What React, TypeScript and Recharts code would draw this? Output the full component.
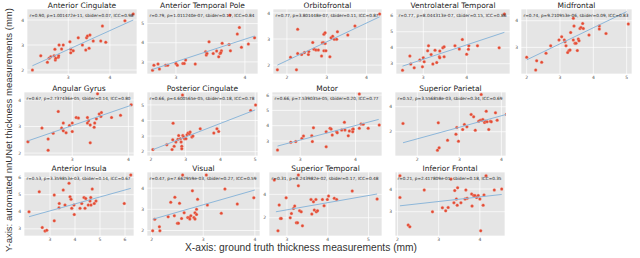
import React from "react";
import { ScatterChart, Scatter, XAxis, YAxis, CartesianGrid } from "recharts";

// region names and the stats line printed in each panel
const regions = [
  "Anterior Cingulate",
  "Anterior Temporal Pole",
  "Orbitofrontal",
  "Ventrolateral Temporal",
  "Midfrontal",
  "Angular Gyrus",
  "Posterior Cingulate",
  "Motor",
  "Superior Parietal",
  "Anterior Insula",
  "Visual",
  "Superior Temporal",
  "Inferior Frontal",
];

const stats = [
  "r=0.90, p=1.001472e-11, sbider=0.07, ICC=0.98",
  "r=0.79, p=1.011240e-07, sbider=0.17, ICC=0.84",
  "r=0.77, p=3.801448e-07, sbider=0.11, ICC=0.87",
  "r=0.77, p=8.044313e-07, sbider=0.15, ICC=0.86",
  "r=0.74, p=9.210953e-06, sbider=0.09, ICC=0.83",
  "r=0.67, p=2.737436e-05, sbider=0.14, ICC=0.80",
  "r=0.66, p=4.600565e-05, sbider=0.18, ICC=0.78",
  "r=0.66, p=7.539035e-05, sbider=0.20, ICC=0.77",
  "r=0.52, p=3.556858e-03, sbider=0.34, ICC=0.69",
  "r=0.53, p=3.359853e-03, sbider=0.14, ICC=0.67",
  "r=0.47, p=7.662959e-03, sbider=0.27, ICC=0.59",
  "r=0.31, p=8.243982e-02, sbider=0.17, ICC=0.48",
  "r=0.21, p=2.417809e-01, sbider=0.18, ICC=0.35",
];

// [ground truth, nnUNet] pairs per region
const anteriorCingulate = [
  [2.14, 2.0], [2.34, 2.57], [2.5, 2.31], [2.54, 2.47], [2.58, 2.53], [2.66, 2.57],
  [2.68, 2.83], [2.69, 2.4], [2.7, 2.47], [2.76, 2.51], [2.77, 2.57], [2.78, 3.0],
  [2.84, 2.84], [2.88, 3.0], [3.04, 3.13], [3.06, 2.83], [3.06, 2.69], [3.12, 2.77],
  [3.24, 3.29], [3.34, 3.0], [3.42, 2.8], [3.44, 3.29], [3.46, 3.36], [3.52, 3.4],
  [3.5, 2.87], [3.6, 3.16], [3.78, 3.16], [3.82, 3.76], [3.9, 3.11], [4.36, 3.97],
  [4.56, 4.24],
];
const anteriorTemporalPole = [
  [2.66, 2.57], [2.68, 2.83], [2.74, 2.89], [2.76, 2.63], [2.85, 2.83], [2.88, 2.83],
  [3.0, 2.92], [3.02, 2.83], [3.1, 2.92], [3.12, 2.92], [3.14, 3.1], [3.28, 2.89],
  [3.43, 3.53], [3.44, 3.36], [3.45, 3.44], [3.54, 3.44], [3.59, 3.57], [3.48, 4.05],
  [3.62, 3.27], [3.64, 3.44], [3.66, 3.58], [3.67, 3.97], [3.65, 3.48], [3.77, 3.91],
  [3.79, 3.58], [3.89, 4.45], [3.92, 4.8], [3.78, 5.44], [3.95, 3.76], [4.05, 3.93],
  [4.14, 4.26],
];
const orbitofrontal = [
  [1.76, 1.82], [2.09, 2.3], [2.24, 1.82], [2.27, 2.45], [2.27, 3.37], [2.37, 2.41],
  [2.44, 2.48], [2.54, 2.41], [2.55, 2.52], [2.65, 2.87], [2.68, 2.61], [2.73, 2.58],
  [2.79, 2.58], [2.87, 2.35], [2.89, 2.86], [2.92, 2.86], [2.93, 2.55], [2.96, 2.83],
  [2.93, 3.18], [2.96, 3.24], [2.98, 2.55], [3.08, 2.32], [3.11, 3.05], [3.15, 3.11],
  [3.19, 2.99], [3.27, 3.28], [3.25, 2.99], [3.53, 3.15], [3.71, 3.5], [4.33, 3.96],
];
const ventrolateralTemporal = [
  [2.52, 2.6], [2.69, 3.48], [2.71, 2.98], [2.79, 2.75], [2.92, 3.23], [2.98, 2.81],
  [3.0, 3.38], [3.02, 3.13], [3.1, 3.81], [3.12, 4.13], [3.18, 3.58], [3.22, 2.98],
  [3.27, 3.85], [3.31, 3.08], [3.37, 3.44], [3.38, 3.38], [3.38, 3.79], [3.45, 4.0],
  [3.48, 4.06], [3.48, 3.44], [3.73, 4.13], [3.83, 3.92], [3.9, 4.52], [4.0, 3.6],
  [4.04, 3.9], [4.05, 4.13], [4.25, 4.13], [4.75, 4.0], [4.87, 6.1],
];
const midfrontal = [
  [2.0, 2.63], [2.27, 2.15], [2.3, 2.5], [2.45, 2.44], [2.58, 2.78], [2.72, 3.06],
  [2.97, 3.28], [3.05, 3.4], [3.13, 3.28], [3.15, 3.21], [3.18, 3.06], [3.23, 2.81],
  [3.27, 2.88], [3.3, 2.9], [3.32, 3.56], [3.4, 4.09], [3.42, 3.8], [3.4, 3.28],
  [3.45, 3.15], [3.48, 3.15], [3.52, 2.88], [3.55, 3.31], [3.57, 3.25], [3.6, 3.71],
  [3.63, 3.75], [3.68, 3.9], [3.7, 3.71], [3.87, 3.46], [4.18, 3.8], [4.18, 3.69],
  [4.38, 3.52], [5.05, 3.88],
];
const angularGyrus = [
  [2.21, 2.43], [2.46, 2.94], [2.57, 2.53], [2.57, 2.11], [2.66, 2.75], [2.75, 3.57],
  [2.81, 2.94], [2.84, 3.13], [2.84, 2.84], [2.89, 2.77], [2.95, 3.04], [3.0, 3.13],
  [3.0, 2.81], [3.07, 3.34], [3.11, 3.32], [3.27, 3.34], [3.27, 3.13], [3.29, 3.22],
  [3.32, 3.06], [3.32, 2.39], [3.39, 2.97], [3.4, 3.13], [3.43, 3.29], [3.45, 4.23],
  [3.48, 3.47], [3.51, 3.38], [3.52, 3.53], [3.7, 3.34], [3.86, 3.42], [4.05, 3.82],
];
const posteriorCingulate = [
  [2.06, 2.13], [2.46, 2.45], [2.61, 2.13], [2.63, 2.77], [2.64, 3.83], [2.67, 2.34],
  [2.72, 2.62], [2.78, 2.79], [2.8, 3.04], [2.85, 2.83], [2.87, 2.62], [2.89, 2.34],
  [2.89, 2.19], [2.92, 3.04], [2.94, 2.94], [2.97, 2.83], [2.91, 5.64], [3.01, 2.83],
  [3.04, 3.09], [3.07, 3.19], [3.11, 3.15], [3.13, 3.26], [3.18, 2.94], [3.21, 3.0],
  [3.42, 3.47], [3.81, 3.19], [3.9, 3.47], [3.95, 3.3], [4.87, 4.64], [5.01, 5.0],
];
const motor = [
  [2.59, 2.41], [2.83, 2.91], [2.92, 2.96], [3.03, 3.17], [3.06, 3.33], [3.21, 3.35],
  [3.22, 2.96], [3.24, 3.87], [3.47, 2.63], [3.47, 3.61], [3.54, 3.83], [3.56, 3.78],
  [3.58, 3.39], [3.66, 3.61], [3.67, 3.54], [3.75, 3.72], [3.8, 4.22], [3.81, 3.72],
  [3.87, 3.35], [3.89, 3.65], [3.95, 3.76], [3.95, 3.61], [3.96, 3.78], [4.07, 3.83],
  [4.1, 4.11], [4.14, 4.09], [4.07, 6.07], [4.23, 3.83], [4.43, 4.04],
];
const superiorParietal = [
  [1.66, 2.67], [2.5, 2.72], [2.48, 0.53], [2.52, 0.72], [2.72, 1.33], [2.92, 1.81],
  [2.94, 2.35], [2.98, 1.25], [3.08, 2.19], [3.12, 2.59], [3.18, 2.4], [3.28, 3.39],
  [3.34, 3.2], [3.38, 2.13], [3.46, 2.85], [3.5, 2.93], [3.54, 2.93], [3.56, 2.99],
  [3.52, 4.99], [3.6, 2.75], [3.62, 2.85], [3.64, 3.65], [3.66, 2.8], [3.7, 2.19],
  [3.74, 2.85], [3.76, 2.8], [3.86, 3.52], [3.9, 2.93], [4.12, 3.39],
];
const anteriorInsula = [
  [2.16, 4.0], [2.57, 5.18], [2.69, 3.08], [2.8, 2.88], [2.87, 2.92], [3.17, 4.98],
  [3.17, 3.47], [3.36, 4.24], [3.37, 4.49], [3.53, 5.27], [3.6, 4.39], [3.76, 5.67],
  [3.8, 4.88], [3.84, 4.73], [3.87, 4.2], [3.96, 4.39], [3.97, 3.84], [4.2, 4.2],
  [4.27, 4.49], [4.36, 4.84], [4.4, 4.2], [4.43, 4.78], [4.53, 4.39], [4.6, 4.63],
  [4.63, 4.84], [4.64, 4.39], [4.69, 5.33], [4.77, 4.49], [4.84, 4.63], [5.97, 4.49],
  [6.23, 6.16],
];
const visual = [
  [2.02, 1.99], [2.06, 2.53], [2.15, 2.18], [2.16, 1.99], [2.32, 2.65], [2.37, 3.33],
  [2.45, 3.57], [2.44, 2.7], [2.5, 2.34], [2.52, 2.34], [2.54, 3.28], [2.58, 2.57],
  [2.6, 4.62], [2.63, 2.84], [2.7, 2.61], [2.73, 2.61], [2.74, 2.54], [2.76, 2.7],
  [2.79, 3.87], [2.82, 2.61], [2.84, 2.84], [2.84, 2.54], [2.87, 2.76], [2.87, 3.0],
  [2.89, 3.47], [3.06, 4.62], [3.08, 3.2], [3.35, 2.81], [3.42, 3.96], [3.66, 3.25],
  [3.98, 3.55],
];
const superiorTemporal = [
  [2.69, 5.23], [2.78, 0.89], [2.81, 3.09], [2.84, 1.94], [2.86, 1.94], [2.98, 3.71],
  [3.08, 2.0], [3.11, 2.37], [3.16, 2.8], [3.19, 3.0], [3.23, 1.57], [3.26, 1.57],
  [3.28, 4.74], [3.28, 5.66], [3.31, 2.6], [3.35, 2.51], [3.38, 1.31], [3.59, 3.57],
  [3.61, 2.31], [3.65, 3.37], [3.67, 2.66], [3.71, 3.57], [3.72, 2.51], [3.75, 2.6],
  [3.87, 3.57], [3.91, 3.03], [3.99, 3.57], [4.02, 3.86], [4.16, 3.66], [4.22, 3.57],
  [4.6, 4.29], [5.21, 3.6],
];
const inferiorFrontal = [
  [2.06, 4.59], [2.06, 3.63], [2.26, 2.41], [2.3, 2.34], [2.65, 3.96], [2.85, 3.0],
  [3.09, 3.18], [3.17, 3.04], [3.23, 3.19], [3.3, 4.44], [3.37, 3.4], [3.39, 3.93],
  [3.43, 3.56], [3.45, 3.29], [3.46, 4.06], [3.54, 3.4], [3.64, 3.56], [3.66, 3.96],
  [3.69, 3.59], [3.8, 3.78], [3.81, 3.25], [3.85, 3.71], [3.88, 3.71], [3.92, 3.63],
  [3.96, 3.71], [4.0, 3.56], [4.02, 2.16], [4.08, 3.29], [4.1, 3.74], [4.15, 4.59],
  [4.35, 3.96], [4.53, 4.0],
];

const points = [
  anteriorCingulate, anteriorTemporalPole, orbitofrontal, ventrolateralTemporal,
  midfrontal, angularGyrus, posteriorCingulate, motor, superiorParietal,
  anteriorInsula, visual, superiorTemporal, inferiorFrontal,
];

// regression line end points [x1, y1, x2, y2]
const fitLines = [
  [2.14, 2.17, 4.56, 4.0],
  [2.66, 2.61, 4.14, 4.35],
  [1.76, 2.0, 4.33, 3.85],
  [2.52, 2.85, 4.87, 4.96],
  [2.0, 2.53, 5.0, 4.34],
  [2.21, 2.46, 4.05, 3.8],
  [2.06, 2.13, 5.0, 4.68],
  [2.59, 2.67, 4.42, 4.41],
  [1.66, 1.12, 4.12, 3.39],
  [2.16, 3.71, 6.23, 5.37],
  [2.02, 2.53, 4.0, 3.91],
  [2.73, 2.51, 5.21, 4.03],
  [2.06, 3.26, 4.53, 3.76],
];

// plot area boxes, axis ranges and ticks
const layout = [
  { x: 27, y: 9, w: 110, h: 65, xd: [2.01, 4.65], yd: [1.84, 4.44], xt: [3, 4], yt: [2, 3, 4] },
  { x: 147, y: 9, w: 111, h: 65, xd: [2.58, 4.19], yd: [2.37, 5.76], xt: [3, 4], yt: [3, 4, 5] },
  { x: 273, y: 9, w: 109, h: 65, xd: [1.65, 4.39], yd: [1.66, 4.15], xt: [2, 3, 4], yt: [2, 3, 4] },
  { x: 396, y: 9, w: 114, h: 65, xd: [2.37, 5.0], yd: [2.36, 6.42], xt: [3, 4], yt: [3, 4, 5, 6] },
  { x: 521, y: 9, w: 111, h: 65, xd: [1.83, 5.16], yd: [2.0, 4.44], xt: [2, 3, 4, 5], yt: [3, 4] },
  { x: 24, y: 92, w: 110, h: 64, xd: [2.14, 4.1], yd: [1.89, 4.3], xt: [3, 4], yt: [2, 3, 4] },
  { x: 147, y: 92, w: 111, h: 64, xd: [1.89, 5.08], yd: [1.72, 5.83], xt: [2, 3, 4, 5], yt: [2, 3, 4, 5] },
  { x: 272, y: 92, w: 110, h: 64, xd: [2.49, 4.48], yd: [2.02, 6.2], xt: [3, 4], yt: [3, 4, 5, 6] },
  { x: 395, y: 92, w: 111, h: 64, xd: [1.47, 4.11], yd: [0.06, 5.18], xt: [2, 3, 4], yt: [2, 4] },
  { x: 24, y: 172, w: 110, h: 64, xd: [1.96, 6.36], yd: [2.58, 6.33], xt: [3, 4, 5, 6], yt: [3, 4, 5, 6] },
  { x: 147, y: 172, w: 113, h: 64, xd: [1.91, 4.1], yd: [1.74, 4.76], xt: [2, 3, 4], yt: [2, 3, 4] },
  { x: 269, y: 172, w: 113, h: 64, xd: [2.56, 5.33], yd: [0.44, 5.91], xt: [3, 4, 5], yt: [2, 4] },
  { x: 395, y: 172, w: 110, h: 64, xd: [1.94, 4.61], yd: [1.93, 4.75], xt: [2, 3, 4], yt: [3, 4] },
];

const YW = 12;
const XH = 10;
const tickStyle = { fontSize: 4.5, fill: "#555", fontFamily: "DejaVu Sans" };

const Dot = (props: any) => (
  <circle cx={props.cx} cy={props.cy} r={1.5} fill="#e24a33" stroke="#f3a393" strokeWidth={0.35} />
);
const NoDot = () => <g />;

function Panel({ i }: { i: number }) {
  const p = layout[i];
  const pts = points[i].map(([x, y]) => ({ x, y }));
  const f = fitLines[i];
  const fit = [
    { x: f[0], y: f[1] },
    { x: f[2], y: f[3] },
  ];
  return (
    <div style={{ position: "absolute", left: p.x - YW, top: p.y }}>
      <ScatterChart width={p.w + YW} height={p.h + XH} margin={{ top: 0, right: 0, bottom: 0, left: 0 }}>
        <CartesianGrid fill="#e5e5e5" stroke="#ffffff" strokeWidth={0.7} />
        <XAxis
          type="number"
          dataKey="x"
          domain={p.xd}
          ticks={p.xt}
          allowDataOverflow
          interval={0}
          axisLine={false}
          tickLine={false}
          tickSize={2}
          tickMargin={0}
          height={XH}
          tick={tickStyle}
        />
        <YAxis
          type="number"
          dataKey="y"
          domain={p.yd}
          ticks={p.yt}
          allowDataOverflow
          interval={0}
          axisLine={false}
          tickLine={false}
          tickSize={2}
          tickMargin={1}
          width={YW}
          tick={tickStyle}
        />
        <Scatter data={pts} shape={Dot} isAnimationActive={false} />
        <Scatter
          data={fit}
          shape={NoDot}
          line={{ stroke: "#8db7da", strokeWidth: 1 }}
          isAnimationActive={false}
        />
      </ScatterChart>
    </div>
  );
}

export default function App() {
  return (
    <div style={{ position: "relative", width: 640, height: 258, background: "#fff", overflow: "hidden" }}>
      <style>{"body{margin:0}"}</style>
      {layout.map((_, i) => (
        <Panel key={i} i={i} />
      ))}
      <svg width={640} height={258} style={{ position: "absolute", left: 0, top: 0, pointerEvents: "none" }}>
        {layout.map((p, i) => (
          <g key={i} fontFamily="DejaVu Sans">
            <text x={p.x + p.w / 2} y={p.y - 1.5} textAnchor="middle" fontSize={7.5} fill="#222">
              {regions[i]}
            </text>
            <text
              x={p.x + 2.5}
              y={p.y + 7.5}
              fontSize={4.3}
              fill="#222"
              textLength={p.w - 6}
              lengthAdjust="spacingAndGlyphs"
            >
              {stats[i]}
            </text>
          </g>
        ))}
        <text
          transform="translate(12,130) rotate(-90)"
          textAnchor="middle"
          fontFamily="Liberation Sans"
          fontSize={9.5}
          fill="#333"
          textLength={244}
          lengthAdjust="spacingAndGlyphs"
        >
          Y-axis: automated nnUNet thickness measurements (mm)
        </text>
        <text
          x={185}
          y={251}
          fontFamily="Liberation Sans"
          fontSize={11}
          fill="#333"
          textLength={232}
          lengthAdjust="spacingAndGlyphs"
        >
          X-axis: ground truth thickness measurements (mm)
        </text>
      </svg>
    </div>
  );
}
